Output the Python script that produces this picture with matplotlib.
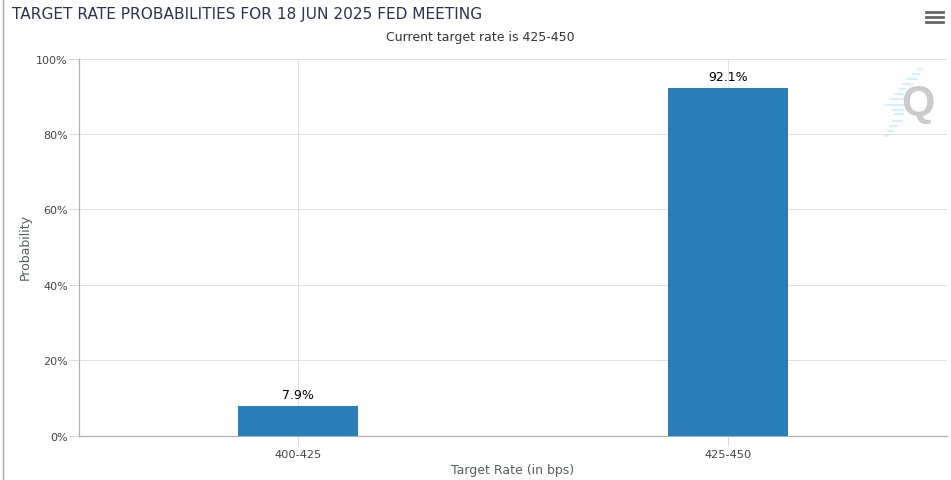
import matplotlib
matplotlib.use("Agg")
import matplotlib.pyplot as plt
from matplotlib.lines import Line2D

W, H = 951, 481

categorias = ["400-425", "425-450"]
probabilidades = [7.9, 92.1]
etiquetas = ["7.9%", "92.1%"]
yticks = [0, 20, 40, 60, 80, 100]

# franjas del logo (y, x0, x1) en pixeles del zoom
franjas = [(210, 175, 187), (225, 160, 178), (240, 145, 170), (255, 130, 160),
           (270, 120, 135), (285, 105, 130), (300, 90, 130), (318, 75, 130),
           (332, 100, 130), (345, 105, 130), (365, 100, 125), (380, 90, 110),
           (395, 85, 100), (410, 75, 85)]

plt.rcParams['font.family'] = ['DejaVu Sans']

fig = plt.figure(figsize=(W / 100, H / 100), dpi=100)
# area del grafico: x 79-947, y 59-436
ax = fig.add_axes([79 / W, 1 - 436.6 / H, 868 / W, 377 / H])

def px(x, y):
    return x / W, 1 - y / H

ax.bar(range(2), probabilidades, width=120 / 430, color="#2a7fb8", zorder=3)
ax.set_xlim(-219 / 430, 1 + 219 / 430)
ax.set_ylim(0, 100)

ax.set_xticks(range(2))
ax.set_xticklabels(categorias, fontsize=8.2, color="#444444")
ax.set_yticks(yticks)
ax.set_yticklabels([str(v) + "%" for v in yticks], fontsize=8, color="#444444")
ax.tick_params(axis='x', length=7, width=0.72, color="#d8d8d8", pad=3)
ax.tick_params(axis='y', length=7, width=0.72, color="#d8d8d8", pad=1)
ax.grid(True, color="#e0e0e0", linewidth=0.72, zorder=0)
ax.set_axisbelow(True)

for s in ['top', 'right']:
    ax.spines[s].set_visible(False)
for s in ['left', 'bottom']:
    ax.spines[s].set_color("#b0b0b0")
    ax.spines[s].set_linewidth(0.9)

for i, v in enumerate(probabilidades):
    ax.annotate(etiquetas[i], (i, v), xytext=(0, 3.8), textcoords='offset points',
                ha='center', va='bottom', fontsize=9, color="black", zorder=4)

fig.text(*px(12, 14.5), "TARGET RATE PROBABILITIES FOR 18 JUN 2025 FED MEETING",
         fontsize=11.1, color="#2b3350", ha='left', va='center')
fig.text(*px(480, 38), "Current target rate is 425-450",
         fontsize=9, color="#333333", ha='center', va='center')
fig.text(*px(513, 471), "Target Rate (in bps)",
         fontsize=9, color="#555f5f", ha='center', va='center')
fig.text(*px(25, 247), "Probability", rotation=90,
         fontsize=9, color="#555f5f", ha='center', va='center')

# logo
for y, x0, x1 in franjas:
    xa, ya = px(860 + x0 / 3, y / 3)
    xb, _ = px(860 + x1 / 3, y / 3)
    fig.add_artist(Line2D([xa, xb], [ya, ya], color="#c4f1fb", linewidth=1.2))
fig.text(*px(917.5, 104), "Q", fontsize=31, fontweight='bold', color="#cccccc",
         ha='center', va='center', family='Liberation Sans')

# menu
for y in [12.5, 17.5, 22.5]:
    xa, ya = px(926, y)
    xb, _ = px(943, y)
    fig.add_artist(Line2D([xa, xb], [ya, ya], color="#666666", linewidth=2))

# borde izquierdo
xa, ya = px(2.5, 0)
_, yb = px(2.5, H)
fig.add_artist(Line2D([xa, xa], [ya, yb], color="#a8a8a8", linewidth=1))

fig.savefig("out.png", dpi=100)
